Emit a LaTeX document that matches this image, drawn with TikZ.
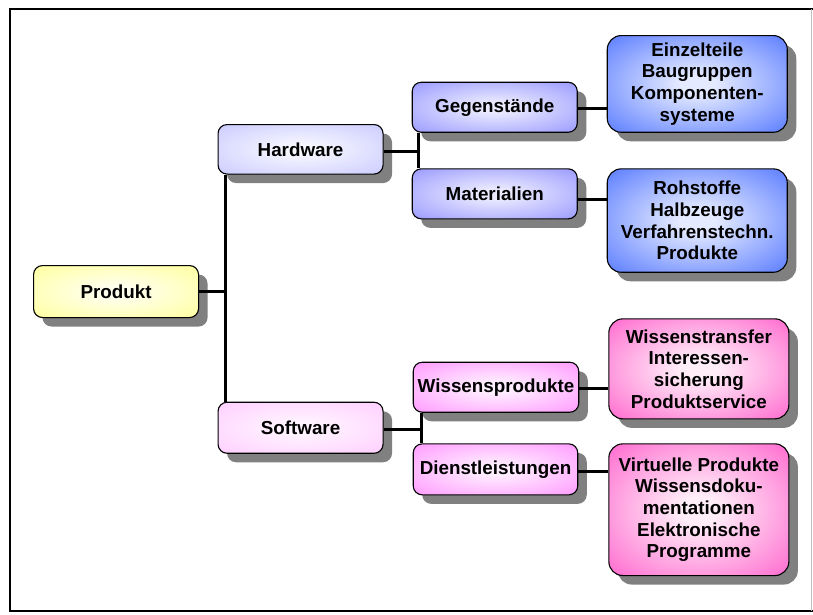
\documentclass[tikz,border=0pt]{standalone}
\usepackage{fontspec}
\setmainfont{Liberation Sans}
\usetikzlibrary{shadows}

% fill colours: outer edge / bright centre
\definecolor{yelO}{HTML}{FFFF99}\definecolor{yelI}{HTML}{FFFFEE}
\definecolor{hwO}{HTML}{C8C8FF}\definecolor{hwI}{HTML}{F6F6FF}
\definecolor{gmO}{HTML}{9494FF}\definecolor{gmI}{HTML}{EAEAFF}
\definecolor{blO}{HTML}{5074FF}\definecolor{blI}{HTML}{E4EAFF}
\definecolor{swO}{HTML}{FFCCFF}\definecolor{swI}{HTML}{FFF4FF}
\definecolor{wpO}{HTML}{FF94FF}\definecolor{wpI}{HTML}{FFEEFF}
\definecolor{pkO}{HTML}{FF60CC}\definecolor{pkI}{HTML}{FFEEF8}
\definecolor{shadowgray}{HTML}{808080}

% radial glow: bright centre fading to the edge colour
\newcommand\declareglow[3]{%
  \pgfdeclareradialshading{#1}{\pgfpointorigin}%
  {color(0bp)=(#2); color(5bp)=(#2); color(38bp)=(#3); color(50bp)=(#3)}}
\declareglow{glowyel}{yelI}{yelO}
\declareglow{glowhw}{hwI}{hwO}
\declareglow{glowgm}{gmI}{gmO}
\declareglow{glowbl}{blI}{blO}
\declareglow{glowsw}{swI}{swO}
\declareglow{glowwp}{wpI}{wpO}
\declareglow{glowpk}{pkI}{pkO}

\tikzset{
  box/.style={draw=black, line width=1.1pt, rounded corners=9pt,
    anchor=north west, inner sep=0pt, align=center,
    font=\fontsize{18.8}{21.7}\selectfont\bfseries,
    general shadow={fill=shadowgray, shadow xshift=9pt, shadow yshift=-9pt}},
  bigbox/.style={box, rounded corners=14pt},
  link/.style={draw=black, line width=3pt},
}

\begin{document}
\begin{tikzpicture}[x=1pt, y=-1pt]
\useasboundingbox (0,0) rectangle (813,614);
\fill[white] (0,0) rectangle (813,614);

% outer frame
\draw[line width=2pt] (813,9) -- (10,9) -- (10,611) -- (813,611);
\draw[black!25, line width=1pt] (811.5,9) -- (811.5,611);

% root
\node[box, shading=glowyel, minimum width=165pt, minimum height=52pt] (prod) at (33,265) {Produkt};

% first level
\node[box, shading=glowhw, minimum width=165pt, minimum height=49.5pt] (hw) at (217.5,124) {Hardware};
\node[box, shading=glowsw, minimum width=165pt, minimum height=51pt] (sw) at (217.5,401.7) {Software};

% second level
\node[box, shading=glowgm, minimum width=165pt, minimum height=50pt] (ge) at (411.7,81.7) {Gegenstände};
\node[box, shading=glowgm, minimum width=165pt, minimum height=50pt] (ma) at (411.7,168.3) {Materialien};
\node[box, shading=glowwp, minimum width=165.5pt, minimum height=50pt] (wp) at (412.7,361.7) {Wissensprodukte};
\node[box, shading=glowwp, minimum width=164.5pt, minimum height=51pt] (dl) at (412.7,443.3) {Dienstleistungen};

% third level
\node[bigbox, shading=glowbl, minimum width=180pt, minimum height=96.7pt] (bl1) at (606.7,35)
  {Einzelteile\\Baugruppen\\Komponenten-\\systeme};
\node[bigbox, shading=glowbl, minimum width=180pt, minimum height=103.4pt] (bl2) at (606.7,168.3)
  {Rohstoffe\\Halbzeuge\\Verfahrenstechn.\\Produkte};
\node[bigbox, shading=glowpk, minimum width=180pt, minimum height=100pt] (pk1) at (608.3,318.3)
  {Wissenstransfer\\Interessen-\\sicherung\\Produktservice};
\node[bigbox, shading=glowpk, minimum width=180pt, minimum height=131.7pt] (pk2) at (608.3,443.3)
  {Virtuelle Produkte\\Wissensdoku-\\mentationen\\Elektronische\\Programme};

% trunks of the tree
\coordinate (tr0) at (225,0);
\coordinate (tr1) at (418,0);
\coordinate (tr2) at (421.7,0);

\draw[link] (prod.east) -- (prod.east -| tr0);
\draw[link] (hw.south -| tr0) -- (sw.north -| tr0);

\draw[link] ([yshift=-2pt]hw.east) -- ([yshift=-2pt]hw.east -| tr1);
\draw[link] (ge.south -| tr1) -- (ma.north -| tr1);

\draw[link] ([yshift=-1.5pt]sw.east) -- ([yshift=-1.5pt]sw.east -| tr2);
\draw[link] (wp.south -| tr2) -- (dl.north -| tr2);

\draw[link] ([yshift=-1.5pt]ge.east) -- ([yshift=-1.5pt]ge.east -| bl1.west);
\draw[link] ([yshift=-6pt]ma.east) -- ([yshift=-6pt]ma.east -| bl2.west);
\draw[link] ([yshift=-1.5pt]wp.east) -- ([yshift=-1.5pt]wp.east -| pk1.west);
\draw[link] ([yshift=-2pt]dl.east) -- ([yshift=-2pt]dl.east -| pk2.west);
\end{tikzpicture}
\end{document}
